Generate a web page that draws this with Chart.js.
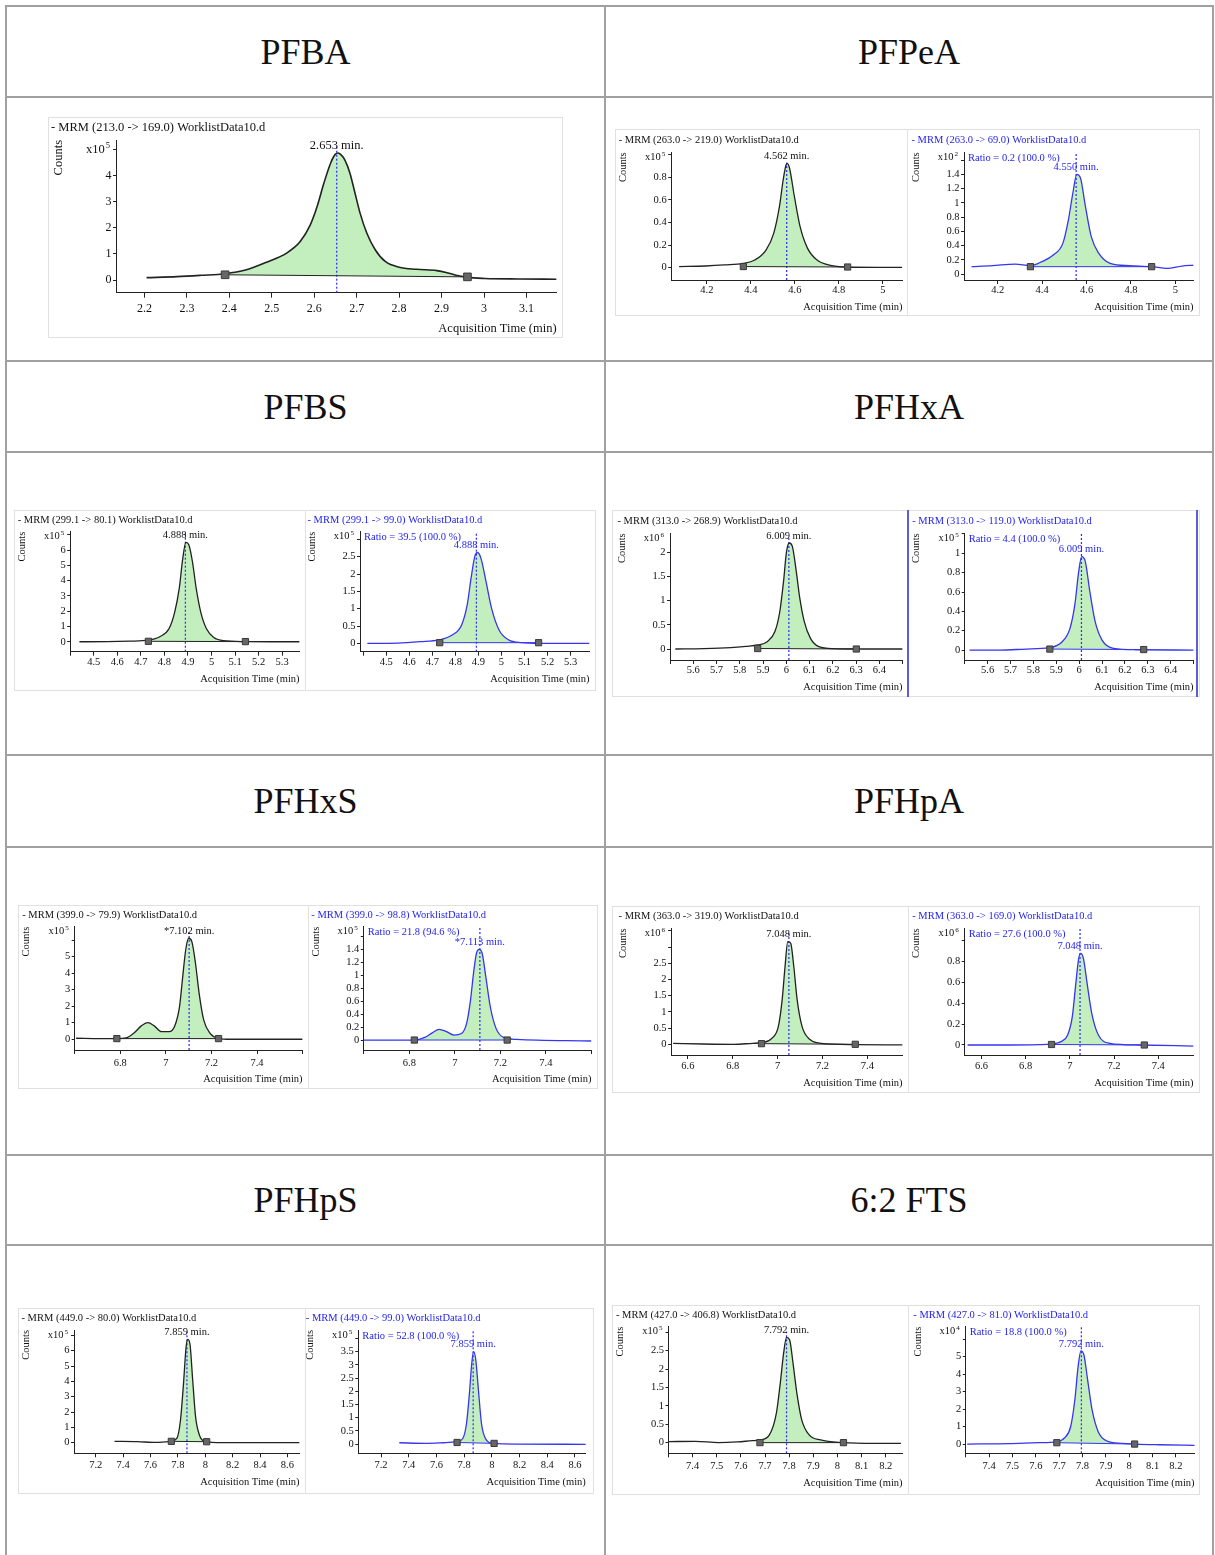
<!DOCTYPE html>
<html>
<head>
<meta charset="utf-8">
<title>MRM chromatograms</title>
<script src="https://cdn.jsdelivr.net/npm/chart.js@4.4.1/dist/chart.umd.min.js"></script>
<style>
  html, body { margin: 0; padding: 0; background: #fff; }
  #page { position: relative; width: 1215px; height: 1555px; overflow: hidden; font-family: "Liberation Serif", "Times New Roman", serif; }
  .rule { position: absolute; background: #a0a0a0; }
  .head { position: absolute; display: flex; align-items: center; justify-content: center; font-size: 36px; color: #111; }
  .frame { position: absolute; border: 1.5px solid #e0e0e0; box-sizing: border-box; }
  .sep { position: absolute; width: 1px; background: #e2e2e2; }
  .sel { position: absolute; width: 1.5px; background: #5c5ce0; }
  canvas { position: absolute; }
</style>
</head>
<body>
<div id="page"></div>
<script>
// Compound names, one per table cell
const compounds = ['PFBA', 'PFPeA', 'PFBS', 'PFHxA', 'PFHxS', 'PFHpA', 'PFHpS', '6:2 FTS'];

// Trace values: [acquisition time (min), counts in units of the axis exponent]
const pfbaQuant = [[2.205,0.09],[2.277,0.13],[2.333,0.18],[2.390,0.24],[2.438,0.38],[2.486,0.67],[2.535,1.03],[2.567,1.47],[2.591,2.12],[2.607,2.82],[2.623,3.72],[2.639,4.49],[2.649,4.80],[2.656,4.86],[2.664,4.78],[2.672,4.60],[2.684,4.10],[2.696,3.33],[2.708,2.56],[2.724,1.79],[2.744,1.15],[2.768,0.70],[2.800,0.49],[2.841,0.41],[2.889,0.36],[2.913,0.28],[2.937,0.17],[2.961,0.10],[3.002,0.06],[3.082,0.04],[3.171,0.03]];
const pfpeaQuant = [[4.074,0.01],[4.194,0.015],[4.28,0.024],[4.366,0.038],[4.418,0.068],[4.469,0.156],[4.504,0.304],[4.53,0.54],[4.547,0.776],[4.56,0.909],[4.566,0.92],[4.576,0.88],[4.598,0.63],[4.624,0.363],[4.658,0.171],[4.701,0.068],[4.762,0.021],[4.839,0.006],[4.968,0.003],[5.088,0.003]];
const pfpeaQual = [[4.082,0.103],[4.176,0.117],[4.279,0.14],[4.347,0.117],[4.399,0.173],[4.45,0.267],[4.493,0.43],[4.518,0.758],[4.538,1.133],[4.556,1.40],[4.573,1.343],[4.595,0.946],[4.621,0.524],[4.655,0.29],[4.706,0.15],[4.792,0.117],[4.894,0.103],[4.962,0.08],[5.03,0.112],[5.082,0.126]];
const pfbsQuant = [[4.439,0],[4.558,0.005],[4.653,0.04],[4.732,0.11],[4.78,0.33],[4.82,0.87],[4.844,1.96],[4.863,3.49],[4.878,5.45],[4.891,6.5],[4.904,6.33],[4.919,5.24],[4.935,3.49],[4.954,1.96],[4.978,0.87],[5.01,0.28],[5.05,0.07],[5.145,0.01],[5.255,0],[5.374,0]];
const pfbsQual = [[4.418,0],[4.549,0.01],[4.647,0.05],[4.729,0.1],[4.786,0.24],[4.827,0.53],[4.851,1.1],[4.868,1.88],[4.884,2.5],[4.896,2.62],[4.911,2.45],[4.933,1.78],[4.957,1.01],[4.99,0.38],[5.031,0.1],[5.088,0.02],[5.169,0],[5.382,0]];
const pfhxaQuant = [[5.523,0],[5.646,0.007],[5.761,0.028],[5.827,0.055],[5.877,0.083],[5.918,0.15],[5.951,0.36],[5.972,0.77],[5.988,1.39],[6.001,2.01],[6.013,2.19],[6.026,2.12],[6.041,1.67],[6.058,1.05],[6.077,0.57],[6.104,0.22],[6.14,0.05],[6.206,0.007],[6.305,0],[6.5,0]];
const pfhxaQual = [[5.521,0],[5.654,0],[5.769,0.01],[5.869,0.024],[5.926,0.086],[5.96,0.224],[5.981,0.466],[5.998,0.81],[6.011,0.966],[6.027,0.914],[6.047,0.60],[6.07,0.293],[6.1,0.103],[6.15,0.017],[6.249,0.003],[6.5,0]];
const pfhxsQuant = [[6.606,0.06],[6.712,0.04],[6.785,0.04],[6.826,0.08],[6.859,0.36],[6.892,0.81],[6.921,1.01],[6.949,0.81],[6.981,0.46],[7.014,0.46],[7.038,0.77],[7.06,1.98],[7.074,3.79],[7.087,5.40],[7.1,6.11],[7.114,5.91],[7.13,4.6],[7.146,2.78],[7.166,1.17],[7.194,0.36],[7.231,0.06],[7.284,0],[7.398,0],[7.6,0]];
const pfhxsQual = [[6.6,0],[6.703,0],[6.822,0],[6.868,0.04],[6.901,0.11],[6.931,0.165],[6.963,0.13],[6.996,0.077],[7.029,0.10],[7.052,0.26],[7.069,0.62],[7.082,1.03],[7.095,1.34],[7.107,1.40],[7.12,1.34],[7.136,0.98],[7.156,0.51],[7.181,0.18],[7.214,0.04],[7.271,0.01],[7.6,-0.015]];
const pfhpaQuant = [[6.534,0.03],[6.669,0.01],[6.805,0],[6.889,0.03],[6.931,0.05],[6.974,0.185],[7.003,0.545],[7.02,1.37],[7.033,2.40],[7.045,3.17],[7.058,3.12],[7.072,2.4],[7.087,1.37],[7.109,0.545],[7.143,0.154],[7.194,0.03],[7.346,-0.01],[7.557,-0.02]];
const pfhpaQual = [[6.537,0],[6.723,0],[6.858,0.003],[6.917,0.01],[6.96,0.032],[6.99,0.096],[7.011,0.272],[7.027,0.592],[7.039,0.817],[7.048,0.88],[7.061,0.833],[7.078,0.592],[7.099,0.304],[7.129,0.096],[7.18,0.016],[7.315,0],[7.56,-0.01]];
const pfhpsQuant = [[7.337,0.09],[7.504,0.07],[7.639,0.02],[7.746,0.09],[7.792,0.28],[7.819,1.48],[7.841,3.87],[7.86,6.26],[7.873,6.74],[7.889,6.37],[7.908,4.09],[7.929,1.70],[7.957,0.5],[7.994,0.09],[8.123,0],[8.366,0],[8.689,0]];
const pfhpsQual = [[7.332,0.05],[7.52,0.025],[7.655,0.05],[7.749,0.09],[7.79,0.21],[7.817,0.78],[7.838,1.92],[7.855,3.06],[7.868,3.50],[7.884,3.19],[7.903,2.05],[7.925,0.78],[7.957,0.18],[8.01,0.025],[8.194,0],[8.678,-0.01]];
const ftsQuant = [[7.302,0.027],[7.412,0.036],[7.507,0],[7.585,0.018],[7.648,0.054],[7.679,0.072],[7.718,0.21],[7.747,0.80],[7.763,1.61],[7.777,2.43],[7.789,2.86],[7.802,2.79],[7.816,2.16],[7.832,1.34],[7.852,0.62],[7.883,0.21],[7.93,0.072],[8.025,0],[8.15,-0.02],[8.263,-0.02]];
const ftsQual = [[7.306,0],[7.483,0.02],[7.613,0.076],[7.69,0.13],[7.725,0.38],[7.749,0.99],[7.767,2.52],[7.781,4.43],[7.793,5.34],[7.806,5.1],[7.822,3.66],[7.841,1.95],[7.867,0.71],[7.902,0.19],[7.967,0.04],[8.023,0],[8.128,-0.04],[8.281,-0.08]];

// Integration start / end markers [time, counts]
const pfbaMarks = [[2.390,0.20],[2.961,0.12]];
const pfpeaQuantMarks = [[4.366,0.01],[4.84,0.006]];
const pfpeaQualMarks = [[4.347,0.103],[4.893,0.103]];
const pfbsQuantMarks = [[4.732,0.03],[5.144,0.01]];
const pfbsQualMarks = [[4.732,0.02],[5.161,0.02]];
const pfhxaQuantMarks = [[5.877,0.01],[6.301,0]];
const pfhxaQualMarks = [[5.872,0.01],[6.282,0.005]];
const pfhxsQuantMarks = [[6.785,0.04],[7.231,0.04]];
const pfhxsQualMarks = [[6.822,0],[7.23,0]];
const pfhpaQuantMarks = [[6.928,0.02],[7.346,0]];
const pfhpaQualMarks = [[6.917,0.005],[7.337,0]];
const pfhpsQuantMarks = [[7.752,0.09],[8.01,0.065]];
const pfhpsQualMarks = [[7.749,0.06],[8.016,0.025]];
const ftsQuantMarks = [[7.679,0],[8.025,0]];
const ftsQualMarks = [[7.69,0.076],[8.023,0]];

// Per trace, in table order (PFBA, then quantifier / qualifier pairs)
const traces = [pfbaQuant, pfpeaQuant, pfpeaQual, pfbsQuant, pfbsQual, pfhxaQuant, pfhxaQual,
  pfhxsQuant, pfhxsQual, pfhpaQuant, pfhpaQual, pfhpsQuant, pfhpsQual, ftsQuant, ftsQual];
const marks = [pfbaMarks, pfpeaQuantMarks, pfpeaQualMarks, pfbsQuantMarks, pfbsQualMarks, pfhxaQuantMarks, pfhxaQualMarks,
  pfhxsQuantMarks, pfhxsQualMarks, pfhpaQuantMarks, pfhpaQualMarks, pfhpsQuantMarks, pfhpsQualMarks, ftsQuantMarks, ftsQualMarks];
const titles = [
  '- MRM (213.0 -> 169.0) WorklistData10.d',
  '- MRM (263.0 -> 219.0) WorklistData10.d', '- MRM (263.0 -> 69.0) WorklistData10.d',
  '- MRM (299.1 -> 80.1) WorklistData10.d', '- MRM (299.1 -> 99.0) WorklistData10.d',
  '- MRM (313.0 -> 268.9) WorklistData10.d', '- MRM (313.0 -> 119.0) WorklistData10.d',
  '- MRM (399.0 -> 79.9) WorklistData10.d', '- MRM (399.0 -> 98.8) WorklistData10.d',
  '- MRM (363.0 -> 319.0) WorklistData10.d', '- MRM (363.0 -> 169.0) WorklistData10.d',
  '- MRM (449.0 -> 80.0) WorklistData10.d', '- MRM (449.0 -> 99.0) WorklistData10.d',
  '- MRM (427.0 -> 406.8) WorklistData10.d', '- MRM (427.0 -> 81.0) WorklistData10.d'
];
const rtTexts = ['2.653 min.', '4.562 min.', '4.550 min.', '4.888 min.', '4.888 min.', '6.009 min.', '6.009 min.',
  '*7.102 min.', '*7.113 min.', '7.048 min.', '7.048 min.', '7.859 min.', '7.859 min.', '7.792 min.', '7.792 min.'];
const rtTimes = [2.653, 4.563, 4.553, 4.889, 4.891, 6.011, 6.01, 7.102, 7.11, 7.05, 7.046, 7.866, 7.865, 7.789, 7.795];
const rtTops = [5.1, 0.93, 1.69, 7.09, 3.2, 2.29, 1.2, 6.61, 1.75, 3.48, 1.12, 7.24, 4.32, 3.02, 6.72];
const ratios = [null, null, 'Ratio = 0.2 (100.0 %)', null, 'Ratio = 39.5 (100.0 %)', null, 'Ratio = 4.4 (100.0 %)',
  null, 'Ratio = 21.8 (94.6 %)', null, 'Ratio = 27.6 (100.0 %)', null, 'Ratio = 52.8 (100.0 %)', null, 'Ratio = 18.8 (100.0 %)'];
const exps = ['5', '5', '2', '5', '5', '6', '5', '5', '5', '6', '6', '5', '5', '5', '4'];

// Axis ranges and tick spacing
const xRanges = [[2.133,3.171],[4.038,5.09],[4.048,5.082],[4.4,5.374],[4.386,5.382],[5.5,6.5],[5.5,6.5],
  [6.6,7.6],[6.6,7.6],[6.525,7.557],[6.524,7.56],[7.041,8.689],[7.036,8.678],[7.3,8.27],[7.3,8.28]];
const xSteps = [0.1, 0.2, 0.2, 0.1, 0.1, 0.1, 0.1, 0.2, 0.2, 0.2, 0.2, 0.2, 0.2, 0.1, 0.1];
const xLabelRanges = [[2.2,3.1],[4.2,5],[4.2,5],[4.5,5.3],[4.5,5.3],[5.6,6.4],[5.6,6.4],
  [6.8,7.4],[6.8,7.4],[6.6,7.4],[6.6,7.4],[7.2,8.6],[7.2,8.6],[7.4,8.2],[7.4,8.2]];
const yRanges = [[-0.486,5.36],[-0.109,1.021],[-0.084,1.709],[-0.65,7.2],[-0.24,3.22],[-0.227,2.39],[-0.103,1.207],
  [-0.65,6.81],[-0.154,1.75],[-0.33,3.58],[-0.096,1.12],[-0.69,7.35],[-0.35,4.32],[-0.29,3.15],[-0.53,6.72]];
const ySteps = [1, 0.2, 0.2, 1, 0.5, 0.5, 0.2, 1, 0.2, 0.5, 0.2, 1, 0.5, 0.5, 1];
const yLabelMax = [4, 0.8, 1.4, 6, 2.5, 2, 1, 5, 1.4, 2.5, 0.8, 6, 3.5, 2.5, 5];

// Page layout (pixels)
const FONT = '"Liberation Serif", "Times New Roman", serif';
const GREEN = '#c2efbd';
const hLines = [5, 96, 360, 451, 754, 846, 1154, 1244];
const vLines = [5, 604, 1212];
const headRows = [[7, 89], [362, 89], [756, 90], [1156, 88]];
const frames = [[48,117,515,221],[615,129,585,187],[14,510,582,181],[612,510,588,187],
  [18,905,580,184],[612,906,588,187],[18,1308,576,186],[612,1305,588,190]];
const seps = [[907,129,187],[305,510,181],[308,905,184],[908,906,187],[305,1308,186],[908,1305,190]];
const selLines = [[907,510,187],[1196,510,187]];

const panels = [
  { box: [48, 117, 515, 219], plot: [116, 140, 560, 292.7], fs: 12.5, tickFs: 12, labOff: 16.6, lw: 1.6, mark: 5.4, titleDx: -65, countsDx: -57, expDy: 10 },
  { box: [616, 130, 292, 184], plot: [671.2, 152.3, 904.7, 280], labOff: 10 },
  { box: [908, 130, 291, 184], plot: [964, 152.3, 1195.5, 280], labOff: 10, blue: true },
  { box: [14, 510, 291, 176], plot: [70.2, 531.7, 301.6, 651.7], labOff: 10 },
  { box: [305, 510, 290, 176], plot: [360, 531.7, 589.5, 651.7], labOff: 10, blue: true },
  { box: [612, 510, 296, 184], plot: [670, 533.3, 902.7, 660], labOff: 10 },
  { box: [908, 510, 291, 184], plot: [964.7, 533.3, 1195, 660], labOff: 10, blue: true },
  { box: [18, 905, 290, 181], plot: [74.7, 926.7, 304.2, 1050], labOff: 13.3 },
  { box: [308, 905, 290, 181], plot: [363.8, 926.7, 591.4, 1050], labOff: 13.3, blue: true },
  { box: [612, 907, 296, 183], plot: [671.1, 928.3, 904.6, 1055], labOff: 11.7 },
  { box: [908, 907, 291, 183], plot: [964.7, 928.3, 1197, 1055], labOff: 11.7, blue: true },
  { box: [18, 1308, 287, 181], plot: [74, 1330, 302.3, 1453.3], labOff: 11.7 },
  { box: [305, 1308, 289, 181], plot: [358.3, 1330, 585.8, 1453.3], labOff: 11.7, blue: true },
  { box: [612, 1305, 296, 185], plot: [668.5, 1326.7, 903.4, 1453.3], labOff: 13.4 },
  { box: [908, 1305, 292, 185], plot: [965.8, 1326.7, 1199.3, 1453.3], labOff: 13.4, blue: true }
];

const page = document.getElementById('page');
Chart.defaults.font.family = FONT;

function addDiv(cls, x, y, w, h, text) {
  const d = document.createElement('div');
  d.className = cls;
  d.style.left = x + 'px';
  d.style.top = y + 'px';
  if (w != null) d.style.width = w + 'px';
  if (h != null) d.style.height = h + 'px';
  if (text) d.textContent = text;
  page.appendChild(d);
  return d;
}

// Table grid and headers
hLines.forEach(y => addDiv('rule', 5, y, 1209, 2));
vLines.forEach(x => addDiv('rule', x, 5, 2, 1550));
compounds.forEach((name, k) => {
  const [y, h] = headRows[Math.floor(k / 2)];
  const x = k % 2 === 0 ? 7 : 606;
  addDiv('head', x, y, k % 2 === 0 ? 597 : 606, h, name);
});
frames.forEach(([x, y, w, h]) => addDiv('frame', x, y, w, h));
seps.forEach(([x, y, h]) => addDiv('sep', x, y, null, h));
selLines.forEach(([x, y, h]) => addDiv('sel', x, y, null, h));

const fmt = v => String(+v.toFixed(3));

// Texts around each chromatogram
const chromText = {
  id: 'chromText',
  afterDraw(chart, args, o) {
    const {ctx, chartArea: a, scales} = chart;
    const f = o.fs;
    const big = `${f}px ${FONT}`;
    const small = `${(f * 0.68).toFixed(1)}px ${FONT}`;
    ctx.save();
    ctx.textBaseline = 'middle';
    ctx.font = big;
    ctx.textAlign = 'left';
    ctx.fillStyle = o.color;
    ctx.fillText(o.title, a.left + o.titleDx, a.top - o.titleDy);

    // "Counts" reading upwards beside the axis
    ctx.fillStyle = '#111';
    ctx.save();
    ctx.translate(a.left + o.countsDx, a.top);
    ctx.rotate(-Math.PI / 2);
    ctx.textAlign = 'right';
    ctx.fillText('Counts', 0, 0);
    ctx.restore();

    // x10^n
    ctx.font = small;
    const wSup = ctx.measureText(o.exp).width;
    ctx.font = big;
    const wBase = ctx.measureText('x10').width;
    const ex = a.left - 6 - wSup;
    const ey = a.top + o.expDy;
    ctx.fillText('x10', ex - wBase - 1, ey);
    ctx.font = small;
    ctx.fillText(o.exp, ex, ey - f * 0.3);
    ctx.font = big;

    if (o.ratio) {
      ctx.fillStyle = o.color;
      ctx.fillText(o.ratio, a.left + 4, ey + 1);
    }

    // retention time above the apex
    const px = scales.x.getPixelForValue(o.rt);
    const py = scales.y.getPixelForValue(o.peak);
    ctx.textAlign = 'center';
    ctx.fillStyle = o.color;
    ctx.fillText(o.rtText, px, py - 7);
    ctx.restore();
  }
};

function drawTrace(i) {
  const p = Object.assign({ fs: 10.5, lw: 1.3, mark: 4.4, titleDx: -52.5, countsDx: -48, expDy: 5 }, panels[i]);
  const tickFs = p.tickFs || p.fs;
  const lineColor = p.blue ? '#3535f2' : '#222';
  const textColor = p.blue ? '#2424ee' : '#111';
  const [bx, by, bw, bh] = p.box;
  const [pl, pt, pr, pb] = p.plot;
  const cv = document.createElement('canvas');
  cv.width = bw;
  cv.height = bh;
  cv.style.left = bx + 'px';
  cv.style.top = by + 'px';
  page.appendChild(cv);

  const yW = pl - bx;
  const xH = by + bh - pb;
  const xl = xLabelRanges[i];
  const peak = Math.max(...traces[i].map(d => d[1]));
  const xTickLen = i === 0 ? 5 : 4;
  const xPad = Math.max(0, p.labOff - xTickLen - tickFs * 0.6);

  new Chart(cv, {
    type: 'line',
    data: {
      datasets: [
        {
          data: traces[i].map(([x, y]) => ({x, y})),
          borderColor: lineColor,
          borderWidth: p.lw,
          pointRadius: 0,
          cubicInterpolationMode: 'monotone',
          fill: 1,
          backgroundColor: GREEN,
          order: 2
        },
        {
          data: marks[i].map(([x, y]) => ({x, y})),
          borderColor: lineColor,
          borderWidth: 1,
          tension: 0,
          fill: false,
          pointStyle: 'rect',
          pointRadius: p.mark,
          pointBackgroundColor: '#666',
          pointBorderColor: '#3a3a3a',
          pointBorderWidth: 1,
          order: 1
        },
        {
          data: [{x: rtTimes[i], y: yRanges[i][0]}, {x: rtTimes[i], y: rtTops[i]}],
          borderColor: '#2a2aff',
          borderWidth: 1.2,
          borderDash: [2, 2],
          pointRadius: 0,
          fill: false,
          order: 3
        }
      ]
    },
    options: {
      responsive: false,
      animation: false,
      devicePixelRatio: 1,
      events: [],
      layout: { padding: { left: 0, top: pt - by, right: bx + bw - pr, bottom: 0 } },
      plugins: {
        legend: { display: false },
        tooltip: { enabled: false },
        filler: { drawTime: 'beforeDatasetsDraw' },
        chromText: {
          fs: p.fs, color: textColor, title: titles[i], exp: exps[i], ratio: ratios[i],
          rt: rtTimes[i], rtText: rtTexts[i], peak,
          titleDx: p.titleDx, titleDy: i === 0 ? 12 : 11.7, countsDx: p.countsDx, expDy: p.expDy
        }
      },
      scales: {
        x: {
          type: 'linear',
          min: xRanges[i][0],
          max: xRanges[i][1],
          afterFit: s => { s.height = xH; },
          ticks: {
            stepSize: xSteps[i],
            includeBounds: false,
            autoSkip: false,
            maxRotation: 0,
            minRotation: 0,
            padding: xPad,
            color: '#111',
            font: { size: tickFs },
            callback: v => (v < xl[0] - 1e-6 || v > xl[1] + 1e-6) ? '' : fmt(v)
          },
          grid: { drawOnChartArea: false, tickLength: xTickLen, color: '#222' },
          border: { color: '#222', width: 1 },
          title: {
            display: true,
            text: 'Acquisition Time (min)',
            align: 'end',
            color: '#111',
            font: { size: p.fs },
            padding: 0
          }
        },
        y: {
          type: 'linear',
          min: yRanges[i][0],
          max: yRanges[i][1],
          afterFit: s => { s.width = yW; },
          ticks: {
            stepSize: ySteps[i],
            includeBounds: false,
            autoSkip: false,
            padding: 1.5,
            color: '#111',
            font: { size: tickFs },
            callback: v => v > yLabelMax[i] + 1e-6 ? '' : fmt(v)
          },
          grid: { drawOnChartArea: false, tickLength: 3, color: '#222' },
          border: { color: '#222', width: 1 }
        }
      }
    },
    plugins: [chromText]
  });
}

traces.forEach((t, i) => drawTrace(i));
</script>
</body>
</html>
